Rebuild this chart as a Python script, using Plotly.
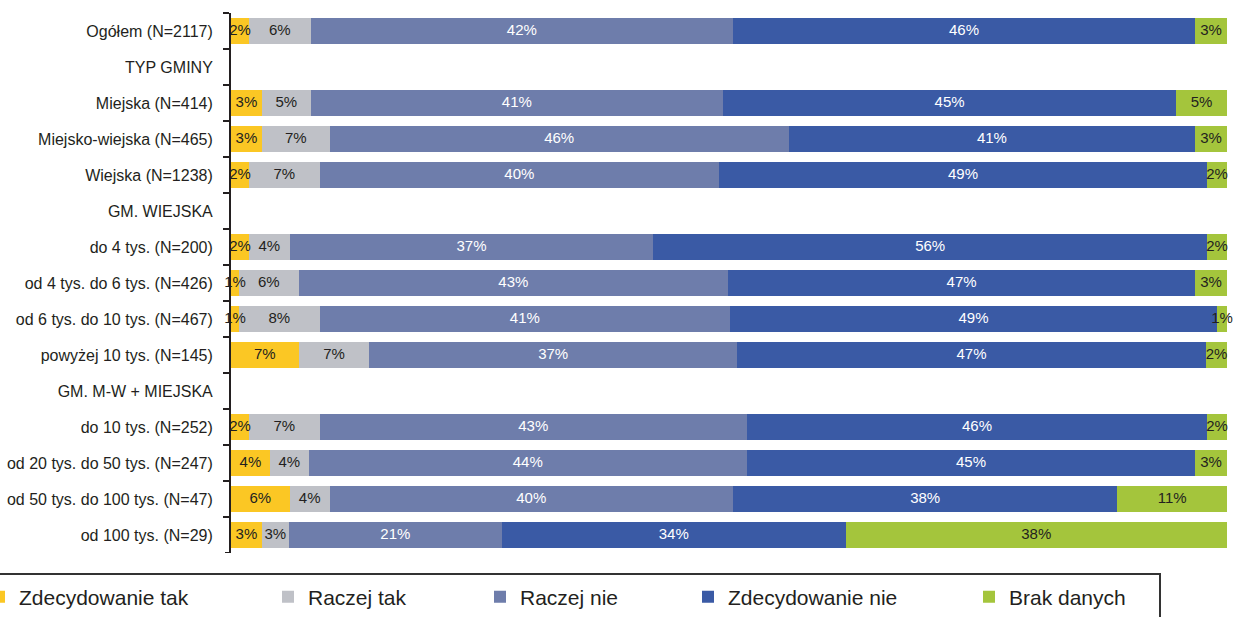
import plotly.graph_objects as go

categories = [
    "Ogółem (N=2117)", "TYP GMINY", "Miejska (N=414)", "Miejsko-wiejska (N=465)",
    "Wiejska (N=1238)", "GM. WIEJSKA", "do 4 tys. (N=200)", "od 4 tys. do 6 tys. (N=426)",
    "od 6 tys. do 10 tys. (N=467)", "powyżej 10 tys. (N=145)", "GM. M-W + MIEJSKA",
    "do 10 tys. (N=252)", "od 20 tys. do 50 tys. (N=247)", "od 50 tys. do 100 tys. (N=47)",
    "od 100 tys. (N=29)",
]

series_names = ["Zdecydowanie tak", "Raczej tak", "Raczej nie", "Zdecydowanie nie", "Brak danych"]

zdecydowanie_tak = [1.8, None, 3.1, 3.1, 1.8, None, 1.8, 0.8, 0.8, 6.8, None, 1.8, 3.9, 5.9, 3.1]
raczej_tak = [6.2, None, 4.9, 6.8, 7.1, None, 4.1, 6.0, 8.1, 7.1, None, 7.1, 3.9, 4.0, 2.7]
raczej_nie = [42.4, None, 41.4, 46.1, 40.1, None, 36.5, 43.1, 41.2, 36.9, None, 42.9, 44.0, 40.5, 21.4]
zdecydowanie_nie = [46.4, None, 45.5, 40.8, 49.0, None, 55.6, 46.9, 48.9, 47.1, None, 46.2, 45.0, 38.6, 34.5]
brak_danych = [3.2, None, 5.1, 3.2, 2.0, None, 2.0, 3.2, 1.0, 2.1, None, 2.0, 3.2, 11.0, 38.3]

labels_tak = ["2%", "", "3%", "3%", "2%", "", "2%", "1%", "1%", "7%", "", "2%", "4%", "6%", "3%"]
labels_raczej_tak = ["6%", "", "5%", "7%", "7%", "", "4%", "6%", "8%", "7%", "", "7%", "4%", "4%", "3%"]
labels_raczej_nie = ["42%", "", "41%", "46%", "40%", "", "37%", "43%", "41%", "37%", "", "43%", "44%", "40%", "21%"]
labels_nie = ["46%", "", "45%", "41%", "49%", "", "56%", "47%", "49%", "47%", "", "46%", "45%", "38%", "34%"]
labels_brak = ["3%", "", "5%", "3%", "2%", "", "2%", "3%", "1%", "2%", "", "2%", "3%", "11%", "38%"]

values = [zdecydowanie_tak, raczej_tak, raczej_nie, zdecydowanie_nie, brak_danych]
labels = [labels_tak, labels_raczej_tak, labels_raczej_nie, labels_nie, labels_brak]
colors = ["#fbc724", "#bfc1c7", "#6e7dab", "#3a5aa5", "#a4c53c"]
text_colors = ["#231f20", "#231f20", "#ffffff", "#ffffff", "#231f20"]

FONT = "Liberation Sans, Arial, sans-serif"
W, H = 1239, 617
ml, mt, mr, mb = 231, 13, 12, 64
pw, ph = W - ml - mr, H - mt - mb
legend_px = [-21, 268, 480, 688, 969]

fig = go.Figure()
for i, name in enumerate(series_names):
    lg = "legend" if i == 0 else f"legend{i + 1}"
    fig.add_trace(go.Bar(
        y=categories, x=values[i], name=name, orientation="h",
        marker=dict(color=colors[i], line=dict(width=0)),
        hoverinfo="skip", legend=lg,
    ))

# value labels on top of all bars, centred on each stacked segment
base = [0.0] * len(categories)
for i in range(len(series_names)):
    xs, ys, ts = [], [], []
    for j, v in enumerate(values[i]):
        if v is None:
            continue
        xs.append(base[j] + v / 2)
        ys.append(categories[j])
        ts.append(labels[i][j])
        base[j] += v
    fig.add_trace(go.Scatter(
        x=xs, y=ys, text=ts, mode="text", textposition="middle center",
        textfont=dict(color=text_colors[i], size=15, family=FONT),
        showlegend=False, hoverinfo="skip", cliponaxis=False,
    ))

legend_y = (553 - 597) / ph
layout_legends = {}
for i in range(5):
    key = "legend" if i == 0 else f"legend{i + 1}"
    layout_legends[key] = dict(
        x=(legend_px[i] - ml) / pw, xanchor="left", xref="paper",
        y=legend_y, yanchor="middle", yref="paper",
        bgcolor="rgba(0,0,0,0)", borderwidth=0,
        font=dict(size=21, color="#231f20", family=FONT),
        orientation="h",
    )

# tick marks at category boundaries (category-axis coordinates)
tick_shapes = [
    dict(type="line", xref="paper", yref="y", x0=-6 / pw, x1=0,
         y0=k - 0.5, y1=k - 0.5, line=dict(color="#231f20", width=2), layer="above")
    for k in range(len(categories) + 1)
]

fig.update_layout(
    width=W, height=H,
    margin=dict(l=ml, r=mr, t=mt, b=mb, autoexpand=False),
    barmode="stack", bargap=0.27,
    plot_bgcolor="white", paper_bgcolor="white",
    font=dict(family=FONT, color="#231f20", size=16),
    xaxis=dict(range=[0, 100], visible=False, showgrid=False),
    yaxis=dict(
        type="category", categoryorder="array", categoryarray=categories,
        range=[len(categories) - 0.5, -0.5], autorange=False,
        showgrid=False, showline=True, linecolor="#231f20", linewidth=2,
        ticks="outside", tickson="boundaries", ticklen=6, tickwidth=2, tickcolor="#231f20",
        tickfont=dict(size=16, color="#231f20"), ticklabelstandoff=13,
    ),
    shapes=[dict(
        type="rect", xref="paper", yref="paper",
        x0=(-6 - ml) / pw, x1=(1160 - ml) / pw,
        y0=(553 - 640) / ph, y1=(553 - 574) / ph,
        line=dict(color="#333333", width=2), fillcolor="rgba(0,0,0,0)", layer="above",
    )] + tick_shapes,
    showlegend=True,
    **layout_legends,
)

fig.write_html(
    "out.html",
    config={"displayModeBar": False},
    post_script="document.body.style.margin='0';document.body.style.overflow='hidden';",
)
